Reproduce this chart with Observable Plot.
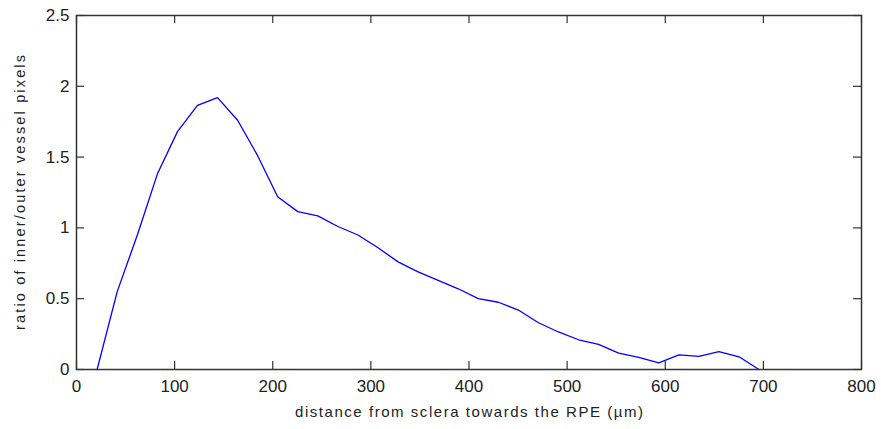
<!DOCTYPE html>
<html>
<head>
<meta charset="utf-8">
<script src="https://cdn.jsdelivr.net/npm/d3@7"></script>
<script src="https://cdn.jsdelivr.net/npm/@observablehq/plot@0.6"></script>
<style>
  html, body { margin: 0; padding: 0; background: #fff; }
  #chart { width: 881px; height: 429px; }
</style>
</head>
<body>
<div id="chart"></div>
<script>
// distance from sclera (µm)
const distance = [21, 41.5, 62, 82.4, 102.9, 123.3, 143.7, 164.2, 184.6, 205, 225.5, 245.9, 266.4, 286.8, 307.3, 327.7, 348.1, 368.6, 389, 409.5, 429.9, 450.3, 470.8, 491.2, 511.7, 532.1, 552.5, 573, 593.4, 613.9, 634.3, 654.7, 675.2, 695.5];
// ratio of inner/outer vessel pixels
const ratio = [0, 0.55, 0.95, 1.38, 1.68, 1.865, 1.92, 1.76, 1.51, 1.22, 1.115, 1.085, 1.01, 0.95, 0.86, 0.76, 0.69, 0.63, 0.57, 0.50, 0.475, 0.42, 0.33, 0.265, 0.21, 0.178, 0.115, 0.085, 0.047, 0.104, 0.092, 0.127, 0.09, 0];
const xTicks = [0, 100, 200, 300, 400, 500, 600, 700, 800];
const yTicks = [0, 0.5, 1, 1.5, 2, 2.5];
const xLabel = "distance from sclera towards the RPE (µm)";
const yLabel = "ratio of inner/outer vessel pixels";

const data = distance.map((d, i) => ({x: d, y: ratio[i]}));

const xTickLen = 8 * 800 / 785;   // 8px in x units
const yTickLen = 8 * 2.5 / 354;   // 8px in y units
const axisColor = "#333";

const chart = Plot.plot({
  width: 881,
  height: 429,
  marginLeft: 76,
  marginRight: 20,
  marginTop: 15,
  marginBottom: 60,
  style: {fontFamily: "'Liberation Sans', Arial, sans-serif", color: "#222", background: "#fff"},
  x: {domain: [0, 800]},
  y: {domain: [0, 2.5]},
  marks: [
    Plot.ruleX(xTicks, {x: d => d, y1: 0, y2: yTickLen, stroke: axisColor, strokeWidth: 1.2}),
    Plot.ruleX(xTicks, {x: d => d, y1: 2.5, y2: 2.5 - yTickLen, stroke: axisColor, strokeWidth: 1.2}),
    Plot.ruleY(yTicks, {y: d => d, x1: 0, x2: xTickLen, stroke: axisColor, strokeWidth: 1.2}),
    Plot.ruleY(yTicks, {y: d => d, x1: 800, x2: 800 - xTickLen, stroke: axisColor, strokeWidth: 1.2}),
    Plot.axisX(xTicks, {anchor: "bottom", tickSize: 0, tickPadding: 10.5, fontSize: 17, label: null, tickFormat: d => String(d)}),
    Plot.axisY(yTicks, {anchor: "left", tickSize: 0, tickPadding: 7, fontSize: 17, label: null, tickFormat: d => String(d)}),
    Plot.line(data, {x: "x", y: "y", stroke: "#0000ff", strokeWidth: 1.3}),
    Plot.frame({stroke: axisColor, strokeWidth: 1.5}),
    Plot.text([xLabel], {text: d => d, frameAnchor: "bottom", lineAnchor: "middle", textAnchor: "middle", dy: 43, fontSize: 15, fill: "#222"}),
    Plot.text([yLabel], {text: d => d, frameAnchor: "left", lineAnchor: "middle", textAnchor: "middle", rotate: -90, dx: -56, fontSize: 14.5, fill: "#222"})
  ]
});
document.getElementById("chart").appendChild(chart);

// stretch axis titles to the reference's wide letter spacing
d3.select(chart).selectAll("text").each(function() {
  const t = this.textContent;
  if (t === xLabel) d3.select(this).attr("textLength", 348).attr("lengthAdjust", "spacing");
  if (t === yLabel) d3.select(this).attr("textLength", 275).attr("lengthAdjust", "spacing");
});
</script>
</body>
</html>
